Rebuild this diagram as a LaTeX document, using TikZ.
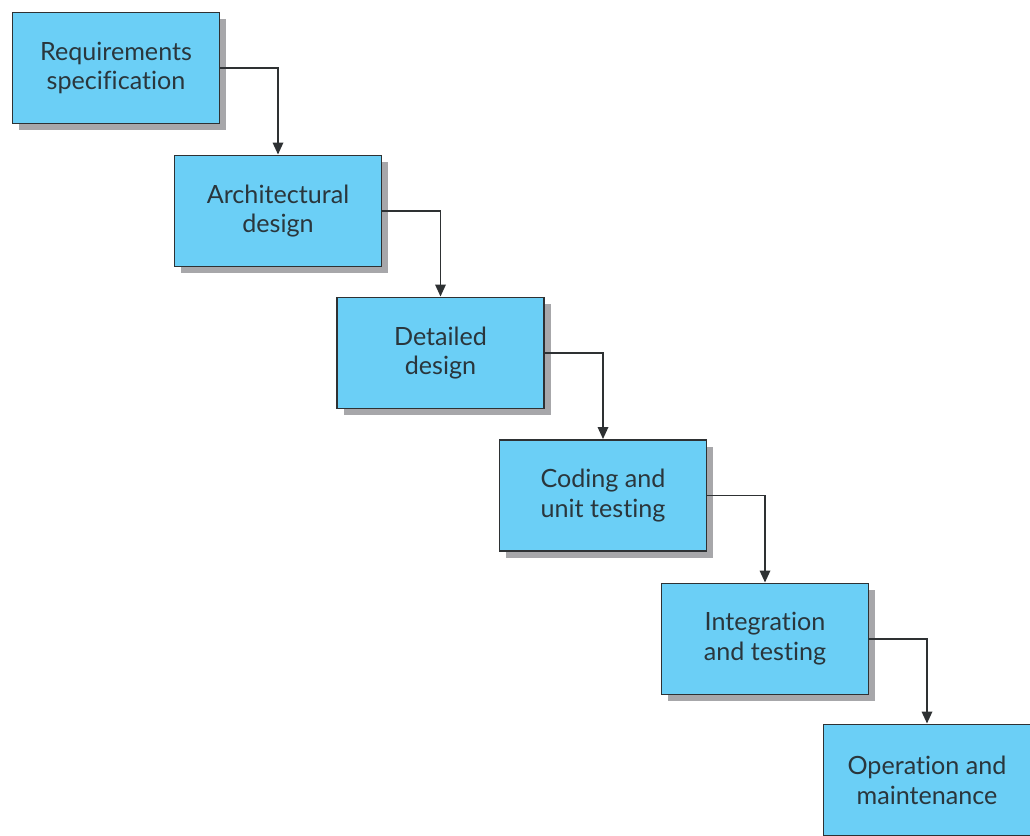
\documentclass[tikz,border=0pt]{standalone}
\usepackage{fontspec}
\setmainfont{Lato}[Ligatures=NoCommon]
\usetikzlibrary{arrows.meta,shadows}

\definecolor{boxblue}{HTML}{6BCFF6}
\definecolor{boxline}{HTML}{2E3133}
\definecolor{shadowgray}{HTML}{A7A7AA}
\definecolor{textgray}{HTML}{2A363C}

\begin{document}
\begin{tikzpicture}[
		phase/.style={draw=boxline, line width=1.1pt, fill=boxblue,
			minimum width=4.14cm, minimum height=2.22cm, align=center,
			text=textgray, font=\fontsize{14.3}{17}\selectfont,
			drop shadow={shadow xshift=0.13cm, shadow yshift=-0.14cm,
				fill=shadowgray, opacity=1}},
		flow/.style={draw=boxline, line width=1pt,
			-{Triangle[length=2.4mm,width=2.1mm]}}
	]
		% Frame
		\useasboundingbox (0,0) rectangle (20.6,16.72);

		% Phases
		\node[phase] (req) at (2.32,15.36) {Requirements\\specification};
		\node[phase] (arch) at (5.56,12.50) {Architectural\\design};
		\node[phase] (det) at (8.81,9.66) {Detailed\\design};
		\node[phase] (code) at (12.06,6.81) {Coding and\\unit testing};
		\node[phase] (integ) at (15.30,3.94) {Integration\\and testing};
		\node[phase] (oper) at (18.54,1.12) {Operation and\\maintenance};

		% Flow
		\draw[flow] (req.east) -| (arch.north);
		\draw[flow] (arch.east) -| (det.north);
		\draw[flow] (det.east) -| (code.north);
		\draw[flow] (code.east) -| (integ.north);
		\draw[flow] (integ.east) -| (oper.north);
	\end{tikzpicture}
\end{document}
